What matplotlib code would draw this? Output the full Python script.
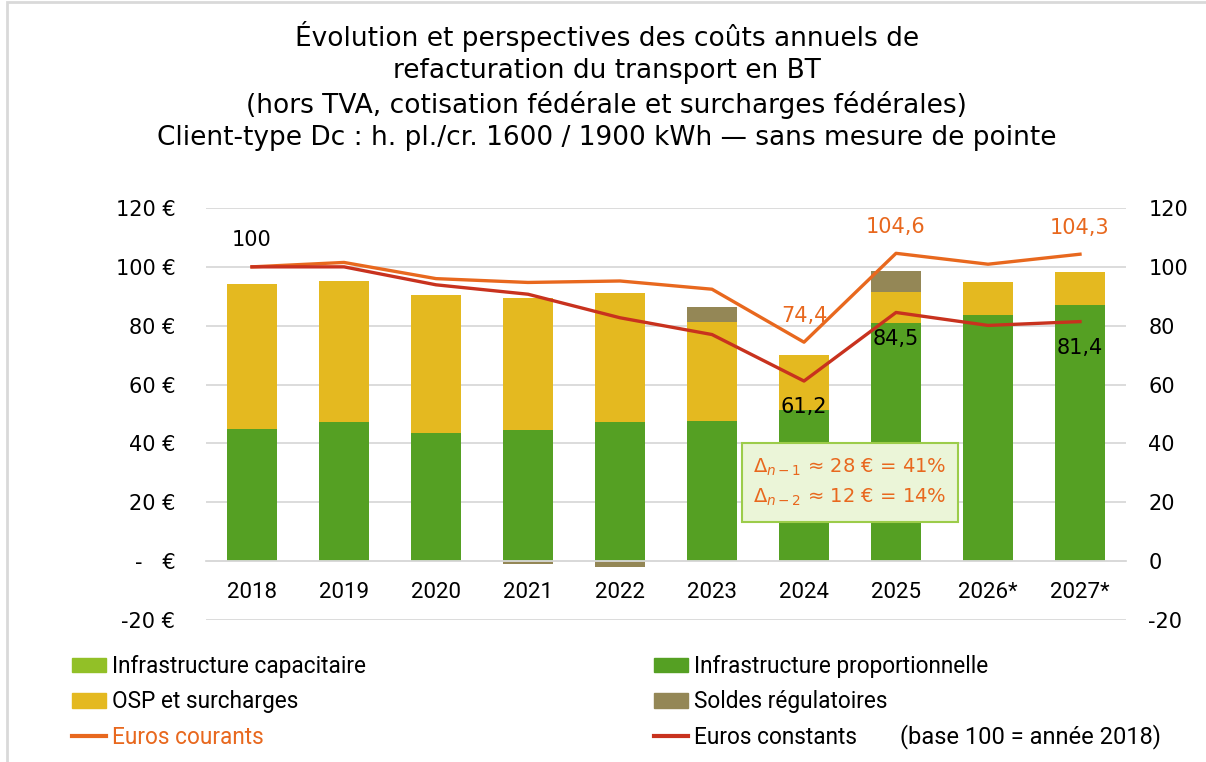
import matplotlib
matplotlib.use("Agg")
import matplotlib.pyplot as plt
from matplotlib.patches import Patch, Rectangle
from matplotlib.lines import Line2D
import numpy as np

years = ["2018", "2019", "2020", "2021", "2022", "2023", "2024", "2025", "2026*", "2027*"]
infra_capacitaire = [0, 0, 0, 0, 0, 0, 0, 0, 0, 0]
infra_proportionnelle = [45.0, 47.3, 43.6, 44.5, 47.3, 47.7, 51.3, 81.0, 83.8, 86.9]
osp_surcharges = [49.1, 48.0, 46.7, 45.0, 43.7, 33.7, 18.6, 10.6, 11.0, 11.3]
soldes_regulatoires = [0, 0, 0, -0.9, -1.9, 5.0, 0, 6.9, 0, 0]
euros_courants = [100, 101.5, 96.0, 94.7, 95.2, 92.4, 74.4, 104.6, 100.9, 104.3]
euros_constants = [100, 100.0, 93.9, 90.7, 82.7, 77.0, 61.2, 84.5, 80.1, 81.4]
courants_labelled = [6, 7, 9]
constants_labelled = [6, 7, 9]

y_ticks = [120, 100, 80, 60, 40, 20, 0, -20]
left_ticklabels = ["120 €", "100 €", "80 €", "60 €", "40 €", "20 €", "-   €", "-20 €"]
right_ticklabels = ["120", "100", "80", "60", "40", "20", "0", "-20"]

title = ("Évolution et perspectives des coûts annuels de\n"
         "refacturation du transport en BT\n"
         "(hors TVA, cotisation fédérale et surcharges fédérales)\n"
         "Client-type Dc : h. pl./cr. 1600 / 1900 kWh — sans mesure de pointe")
delta_lines = [r"$\Delta_{n-1}$ ≈ 28 € = 41%", r"$\Delta_{n-2}$ ≈ 12 € = 14%"]

C_CAP = "#92c027"
C_PROP = "#55a023"
C_OSP = "#e4b920"
C_SOLDE = "#948756"
C_COUR = "#e8681e"
C_CONST = "#c8321e"
GRID = "#d9d9d9"
NARROW = ["Roboto", "DejaVu Sans"]

plt.rcParams["font.family"] = ["DejaVu Sans"]


def fmt(v):
    return str(int(v)) if float(v).is_integer() else f"{v:.1f}".replace(".", ",")


fig = plt.figure(figsize=(12.06, 7.62), dpi=100)
ax = fig.add_axes([206 / 1206, 1 - 620 / 762, 920 / 1206, 412 / 762])
x = np.arange(len(years))
w = 0.55

prop = np.array(infra_proportionnelle)
cap = np.array(infra_capacitaire)
osp = np.array(osp_surcharges)
sol = np.array(soldes_regulatoires)

ax.bar(x, prop, w, color=C_PROP, zorder=2)
ax.bar(x, cap, w, bottom=prop, color=C_CAP, zorder=2)
ax.bar(x, osp, w, bottom=prop + cap, color=C_OSP, zorder=2)
ax.bar(x, sol, w, bottom=np.where(sol > 0, prop + cap + osp, 0), color=C_SOLDE, zorder=2)

ax.set_xlim(-0.5, len(years) - 0.5)
ax.set_ylim(-20, 120)
ax.set_yticks(y_ticks)
ax.set_yticklabels(left_ticklabels)
ax.yaxis.grid(True, color=GRID, lw=1.3)
ax.set_axisbelow(True)
for s in ["top", "left", "right"]:
    ax.spines[s].set_visible(False)
ax.spines["bottom"].set_position(("data", 0))
ax.spines["bottom"].set_color(GRID)
ax.spines["bottom"].set_linewidth(1.3)
ax.set_xticks(x)
ax.set_xticklabels(years, fontfamily=NARROW, fontsize=16)
ax.tick_params(axis="x", length=0, pad=15)
ax.tick_params(axis="y", length=0, pad=22, labelsize=15)

ax2 = ax.twinx()
ax2.plot(x, euros_courants, color=C_COUR, lw=2.4, zorder=3)
ax2.plot(x, euros_constants, color=C_CONST, lw=2.4, zorder=4)
ax2.set_ylim(-20, 120)
ax2.set_yticks(y_ticks)
ax2.set_yticklabels(right_ticklabels)
ax2.tick_params(axis="y", length=0, pad=16, labelsize=15)
for s in ax2.spines.values():
    s.set_visible(False)

ax2.annotate(fmt(euros_constants[0]), (x[0], euros_constants[0]), xytext=(0, 19),
             textcoords="offset points", ha="center", va="center", fontsize=15, color="black")
for i in courants_labelled:
    ax2.annotate(fmt(euros_courants[i]), (x[i], euros_courants[i]), xytext=(0, 19),
                 textcoords="offset points", ha="center", va="center", fontsize=15, color=C_COUR)
for i in constants_labelled:
    ax2.annotate(fmt(euros_constants[i]), (x[i], euros_constants[i]), xytext=(0, -19),
                 textcoords="offset points", ha="center", va="center", fontsize=15, color="black")

fig.text(0.503, 1 - 21 / 762, title, ha="center", va="top", fontsize=19, linespacing=1.3)

# encadré des deltas
fig.patches.append(Rectangle((742 / 1206, 1 - 522 / 762), 216 / 1206, 79 / 762,
                             transform=fig.transFigure, facecolor="#ebf5d8",
                             edgecolor="#9ccc4a", lw=1.5, zorder=5))
fig.text(850 / 1206, 1 - 467 / 762, delta_lines[0], ha="center", va="center",
         fontsize=14, color=C_COUR, zorder=6)
fig.text(850 / 1206, 1 - 497 / 762, delta_lines[1], ha="center", va="center",
         fontsize=14, color=C_COUR, zorder=6)

# cadre gris
fig.patches.append(Rectangle((7 / 1206, -0.05), 1.2, 1.05 - 2 / 762, transform=fig.transFigure,
                             fill=False, edgecolor=GRID, lw=2, zorder=0))

leg_kw = dict(loc="upper left", frameon=False, handlelength=1.5, handleheight=0.6,
              handletextpad=0.25, labelspacing=0.55, borderpad=0, borderaxespad=0,
              prop={"family": NARROW, "size": 16.3})
h1 = [Patch(color=C_CAP), Patch(color=C_OSP), Line2D([], [], color=C_COUR, lw=3)]
leg1 = fig.legend(h1, ["Infrastructure capacitaire", "OSP et surcharges", "Euros courants"],
                  bbox_to_anchor=(72 / 1206, 1 - 655 / 762), **leg_kw)
leg1.get_texts()[2].set_color(C_COUR)
h2 = [Patch(color=C_PROP), Patch(color=C_SOLDE), Line2D([], [], color=C_CONST, lw=3)]
fig.legend(h2, ["Infrastructure proportionnelle", "Soldes régulatoires", "Euros constants"],
           bbox_to_anchor=(654 / 1206, 1 - 655 / 762), **leg_kw)
fig.text(900 / 1206, 1 - 737 / 762, "(base 100 = année 2018)", ha="left", va="center",
         fontfamily=NARROW, fontsize=17)

fig.savefig("out.png", dpi=100)
